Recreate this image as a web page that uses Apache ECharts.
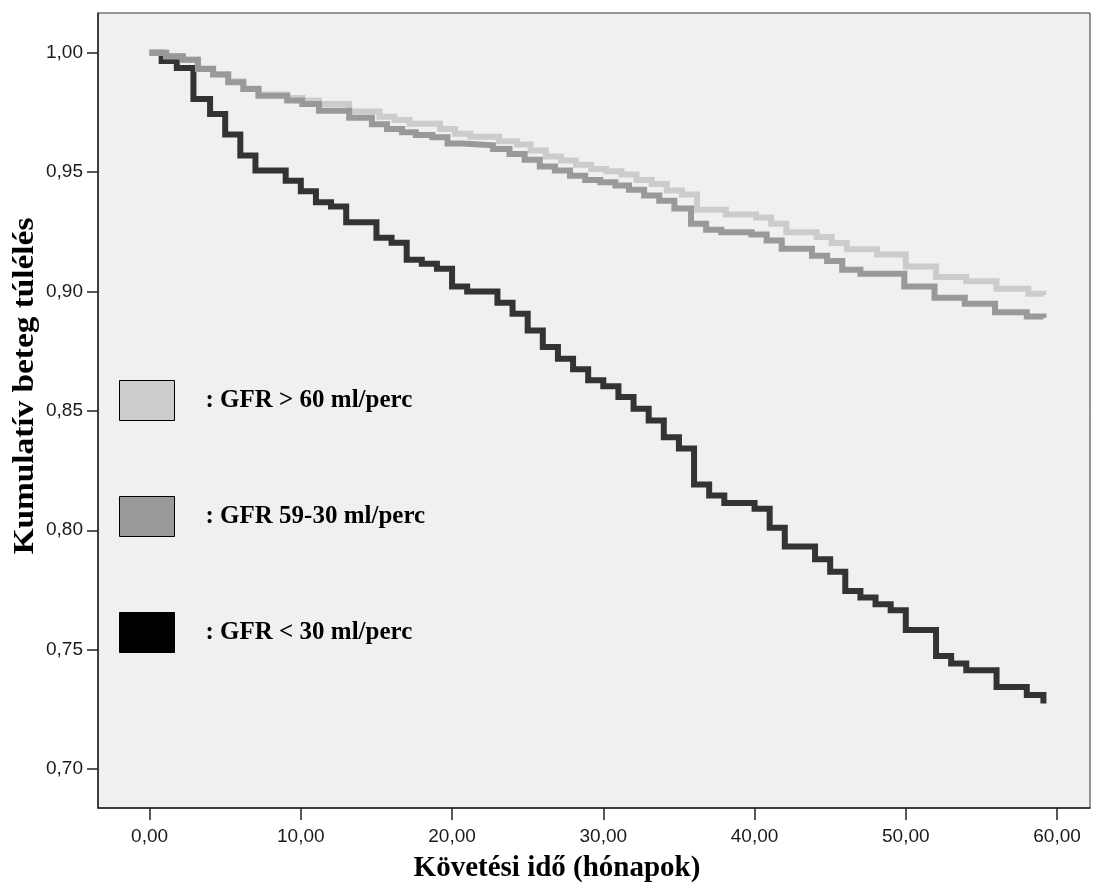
<!DOCTYPE html>
<html>
<head>
<meta charset="utf-8">
<script src="https://cdn.jsdelivr.net/npm/echarts@6/dist/echarts.min.js"></script>
<style>
html,body{margin:0;padding:0;background:#fff;}
#chart{width:1101px;height:890px;}
</style>
</head>
<body>
<div id="chart"></div>
<script>
// ---- data ----
const seriesNames = ['GFR > 60 ml/perc', 'GFR 59-30 ml/perc', 'GFR < 30 ml/perc'];

const timeHigh = [0, 1.1, 2.2, 3.2, 4.2, 5.2, 6.2, 7.2, 9.1, 10.1, 11.2, 13.2, 15.2, 16.2, 17.2, 19.2, 20.2, 21.2, 23.1, 24.3, 25.2, 26.2, 27.2, 28.2, 29.2, 30.2, 31.2, 32.2, 33.2, 34.2, 35.2, 36.2, 38.1, 40.1, 41.1, 42.1, 44.1, 45.1, 46.1, 48.1, 50.0, 52.0, 54.0, 56.0, 58.1, 59.1];
const survHigh = [1.000, 0.9985, 0.997, 0.9935, 0.991, 0.988, 0.985, 0.9825, 0.981, 0.980, 0.9785, 0.9754, 0.9732, 0.9718, 0.9702, 0.968, 0.966, 0.9648, 0.9629, 0.9615, 0.959, 0.9565, 0.9548, 0.9531, 0.9513, 0.9503, 0.949, 0.9467, 0.945, 0.9423, 0.9406, 0.9342, 0.9322, 0.931, 0.9283, 0.9248, 0.9228, 0.9203, 0.9177, 0.9155, 0.9105, 0.906, 0.9043, 0.9011, 0.899, 0.8985];

const timeMid = [0, 1.1, 2.2, 3.2, 4.2, 5.2, 6.2, 7.2, 9.1, 10.1, 11.2, 13.2, 14.7, 15.7, 16.7, 17.6, 18.7, 19.7, 20.7, 22.7, 23.8, 24.8, 25.8, 26.8, 27.8, 28.8, 29.8, 30.8, 31.7, 32.7, 33.7, 34.7, 35.8, 36.8, 37.8, 39.8, 40.8, 41.8, 43.8, 44.8, 45.8, 47.0, 49.9, 51.9, 53.9, 55.9, 58.0, 59.1];
const survMid = [1.000, 0.9985, 0.997, 0.9932, 0.9908, 0.9876, 0.9848, 0.982, 0.980, 0.9785, 0.9757, 0.9727, 0.970, 0.968, 0.9667, 0.9655, 0.9646, 0.962, 0.9612, 0.9597, 0.9576, 0.9551, 0.9523, 0.9506, 0.9485, 0.9467, 0.9457, 0.9444, 0.9426, 0.9402, 0.938, 0.9347, 0.9283, 0.9258, 0.9248, 0.9238, 0.9213, 0.9179, 0.915, 0.9127, 0.9091, 0.9074, 0.9021, 0.8974, 0.8948, 0.8913, 0.8895, 0.889];

const timeLow = [0, 0.8, 1.8, 2.9, 4.0, 5.0, 6.0, 7.0, 9.0, 10.0, 11.0, 12.0, 13.0, 15.0, 16.0, 17.0, 18.0, 19.0, 20.0, 21.0, 23.0, 24.0, 25.0, 26.0, 27.0, 28.0, 29.0, 30.0, 31.0, 32.0, 33.0, 34.0, 35.0, 36.0, 37.0, 38.0, 40.0, 41.0, 42.0, 44.0, 45.0, 46.0, 47.0, 48.0, 49.0, 50.0, 52.0, 53.0, 54.0, 56.0, 58.0, 59.1];
const survLow = [1.000, 0.9965, 0.9936, 0.9806, 0.9743, 0.9657, 0.9569, 0.9506, 0.9464, 0.942, 0.9374, 0.9356, 0.929, 0.9225, 0.9204, 0.9133, 0.9116, 0.9095, 0.9021, 0.900, 0.8953, 0.8907, 0.8837, 0.8767, 0.8718, 0.8674, 0.8628, 0.8603, 0.8558, 0.8509, 0.846, 0.839, 0.8342, 0.8192, 0.8146, 0.8114, 0.809, 0.8011, 0.7932, 0.7879, 0.7826, 0.7746, 0.7718, 0.769, 0.7665, 0.7582, 0.7473, 0.7442, 0.7414, 0.7344, 0.731, 0.7275];

const xTicks = [0, 10, 20, 30, 40, 50, 60];
const yTicks = [0.70, 0.75, 0.80, 0.85, 0.90, 0.95, 1.00];

const xAxisTitle = 'Követési idő (hónapok)';
const yAxisTitle = 'Kumulatív beteg túlélés';

// ---- chart ----
function zip(t, v) { return t.map((x, i) => [x, v[i]]); }
function fmt(v) { return v.toFixed(2).replace('.', ','); }

const chart = echarts.init(document.getElementById('chart'), null, {renderer: 'canvas'});
const tickFont = {fontFamily: 'Liberation Sans, Arial, sans-serif', fontSize: 19, color: '#1a1a1a'};

chart.setOption({
  animation: false,
  backgroundColor: '#ffffff',
  grid: {
    left: 98, top: 13, right: 11, bottom: 82,
    show: true, backgroundColor: '#f0f0f0', borderColor: '#333', borderWidth: 1
  },
  xAxis: {
    type: 'value', min: -3.41, max: 62.18,
    splitLine: {show: false},
    axisLine: {show: true, onZero: false, lineStyle: {color: '#222', width: 1.5}},
    axisTick: {show: true, length: 12, customValues: xTicks, lineStyle: {color: '#222', width: 1.5}},
    axisLabel: Object.assign({customValues: xTicks, margin: 19, formatter: fmt}, tickFont)
  },
  yAxis: {
    type: 'value', min: 0.6837, max: 1.0166,
    splitLine: {show: false},
    axisLine: {show: true, onZero: false, lineStyle: {color: '#222', width: 1.5}},
    axisTick: {show: true, length: 11, customValues: yTicks, lineStyle: {color: '#222', width: 1.5}},
    axisLabel: Object.assign({customValues: yTicks, margin: 15, formatter: fmt}, tickFont)
  },
  legend: {
    data: seriesNames,
    orient: 'vertical',
    left: 119, top: 380, padding: 0,
    icon: 'rect',
    itemWidth: 55, itemHeight: 40, itemGap: 75,
    itemStyle: {borderColor: '#000', borderWidth: 1},
    formatter: n => ': ' + n,
    textStyle: {fontFamily: 'Liberation Serif, Times New Roman, serif', fontWeight: 'bold', fontSize: 25, color: '#000', padding: [4, 0, 0, 26]}
  },
  series: [
    {
      name: seriesNames[0], type: 'line', step: 'end', showSymbol: false, z: 3,
      data: zip(timeHigh, survHigh),
      itemStyle: {color: '#cccccc'},
      lineStyle: {color: '#cccccc', width: 6, join: 'miter'}
    },
    {
      name: seriesNames[1], type: 'line', step: 'end', showSymbol: false, z: 4,
      data: zip(timeMid, survMid),
      itemStyle: {color: '#999999'},
      lineStyle: {color: '#999999', width: 6, join: 'miter'}
    },
    {
      name: seriesNames[2], type: 'line', step: 'end', showSymbol: false, z: 2,
      data: zip(timeLow, survLow),
      itemStyle: {color: '#000000'},
      lineStyle: {color: '#333333', width: 6, join: 'miter'}
    }
  ],
  graphic: [
    {
      type: 'text', x: 557, y: 869,
      style: {text: xAxisTitle, align: 'center', verticalAlign: 'middle', fill: '#000',
        font: 'bold 29px "Liberation Serif", "Times New Roman", serif'}
    },
    {
      type: 'text', x: 25, y: 386, rotation: Math.PI / 2, scaleX: 1.11,
      style: {text: yAxisTitle, align: 'center', verticalAlign: 'middle', fill: '#000',
        font: 'bold 30px "Liberation Serif", "Times New Roman", serif'}
    }
  ]
});
</script>
</body>
</html>
